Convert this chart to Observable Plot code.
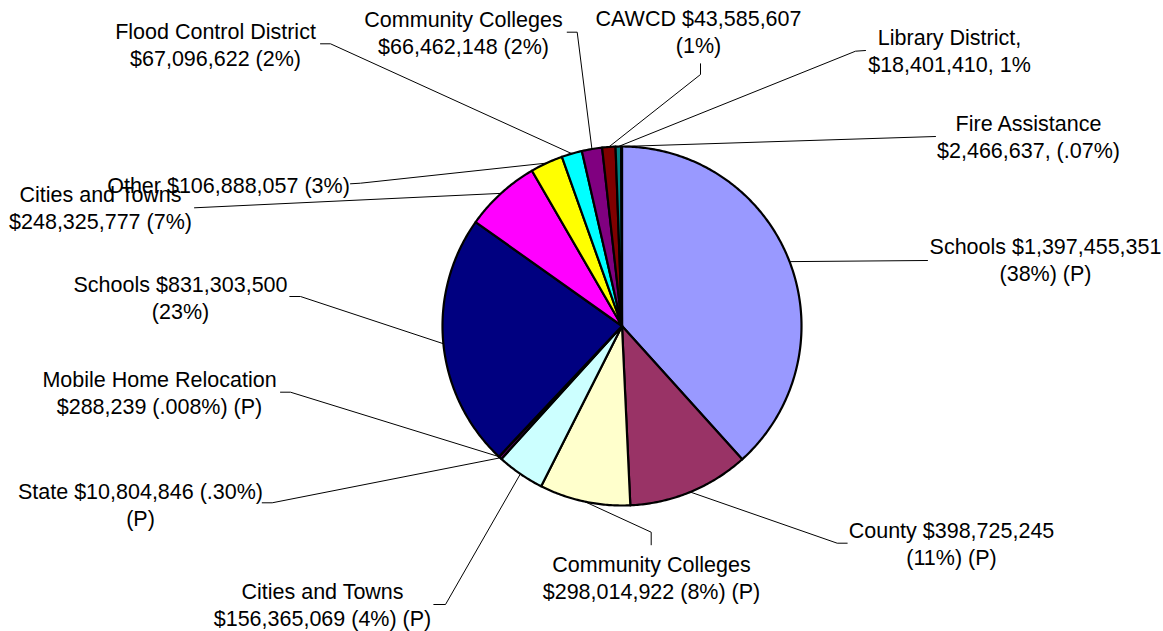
<!DOCTYPE html>
<html>
<head>
<meta charset="utf-8">
<script src="https://cdn.jsdelivr.net/npm/d3@7"></script>
<script src="https://cdn.jsdelivr.net/npm/@observablehq/plot@0.6"></script>
<style>
  html, body { margin: 0; padding: 0; background: #fff; }
  #chart svg { display: block; }
</style>
</head>
<body>
<div id="chart"></div>
<script>
// ---- data ----
const categories = [
  "Schools (P)", "County (P)", "Community Colleges (P)", "Cities and Towns (P)",
  "State (P)", "Mobile Home Relocation (P)", "Schools", "Cities and Towns",
  "Other", "Flood Control District", "Community Colleges", "CAWCD",
  "Library District", "Fire Assistance"
];
const values = [
  1397455351, 398725245, 298014922, 156365069,
  10804846, 288239, 831303500, 248325777,
  106888057, 67096622, 66462148, 43585607,
  18401410, 2466637
];
const labels = [
  "Schools $1,397,455,351\n(38%) (P)",
  "County $398,725,245\n(11%) (P)",
  "Community Colleges\n$298,014,922 (8%) (P)",
  "Cities and Towns\n$156,365,069 (4%) (P)",
  "State $10,804,846 (.30%)\n(P)",
  "Mobile Home Relocation\n$288,239 (.008%) (P)",
  "Schools $831,303,500\n(23%)",
  "Cities and Towns\n$248,325,777 (7%)",
  "Other $106,888,057 (3%)",
  "Flood Control District\n$67,096,622 (2%)",
  "Community Colleges\n$66,462,148 (2%)",
  "CAWCD $43,585,607\n(1%)",
  "Library District,\n$18,401,410, 1%",
  "Fire Assistance\n$2,466,637, (.07%)"
];

// ---- styles ----
const colors = [
  "#9999FF", "#993366", "#FFFFCC", "#CCFFFF",
  "#660066", "#FF8080", "#000080", "#FF00FF",
  "#FFFF00", "#00FFFF", "#800080", "#800000",
  "#008080", "#0000FF"
];

// ---- layout (pixel positions of label blocks and leader bends) ----
const W = 1163, H = 631;
const CX = 621.5, CY = 325.5, R = 179.5;
const labelPos = [
  [1045, 258], [951, 542], [651, 576], [322, 603],
  [140, 503], [159, 391], [180, 296], [100, 206],
  [228, 184], [215, 43], [463, 31], [698, 30],
  [949, 49], [1028, 135]
];
const leaderBends = [
  [[927, 260]],
  [[836.7, 542.7], [846.7, 542.7]],
  [[650.7, 531.7], [650.7, 544.3]],
  [[445, 604], [433.3, 604]],
  [[271.7, 502.3], [261.7, 502.3]],
  [[290, 391.7], [280, 391.7]],
  [[300, 296], [289.3, 296]],
  [[194, 207.3]],
  [[360, 182.7], [350, 183.3]],
  [[330, 43.3], [320, 43.3]],
  [[576.7, 31.7], [566.7, 31.7]],
  [[700, 74], [700, 63.3]],
  [[855, 50.7], [865, 50]],
  [[935, 136]]
];

// ---- build geometry from data ----
const arcs = d3.pie().sort(null).value(d => d)(values);
const pt = (a, r) => [CX + r * Math.sin(a), CY - r * Math.cos(a)];

const slicePts = [];
arcs.forEach((a, i) => {
  const n = Math.max(2, Math.ceil((a.endAngle - a.startAngle) / 0.01));
  slicePts.push({k: i, x: CX, y: CY});
  for (let j = 0; j <= n; j++) {
    const t = a.startAngle + (a.endAngle - a.startAngle) * j / n;
    const [x, y] = pt(t, R);
    slicePts.push({k: i, x, y});
  }
  slicePts.push({k: i, x: CX, y: CY});
});

const leaderPts = [];
arcs.forEach((a, i) => {
  const [sx, sy] = pt((a.startAngle + a.endAngle) / 2, R);
  leaderPts.push({k: i, x: sx, y: sy});
  leaderPts.push(...leaderBends[i].map(([x, y]) => ({k: i, x, y})));
});

const labelData = labels.map((t, i) => ({t, x: labelPos[i][0], y: labelPos[i][1]}));

const chart = Plot.plot({
  width: W,
  height: H,
  margin: 0,
  x: {domain: [0, W], range: [0, W], axis: null},
  y: {domain: [0, H], range: [0, H], axis: null},
  style: {background: "#fff"},
  marks: [
    Plot.line(leaderPts, {x: "x", y: "y", z: "k", stroke: "#000", strokeWidth: 1, curve: "linear"}),
    Plot.line(slicePts, {
      x: "x", y: "y", z: "k",
      fill: d => colors[d.k],
      stroke: "#000", strokeWidth: 2.2, strokeLinejoin: "round", curve: "linear"
    }),
    Plot.text(labelData, {
      x: "x", y: "y", text: "t",
      fontSize: 21.5, lineHeight: 1.26,
      fontFamily: "'Liberation Sans', Arial, sans-serif",
      fill: "#000", textAnchor: "middle"
    })
  ]
});
document.getElementById("chart").appendChild(chart);
</script>
</body>
</html>
